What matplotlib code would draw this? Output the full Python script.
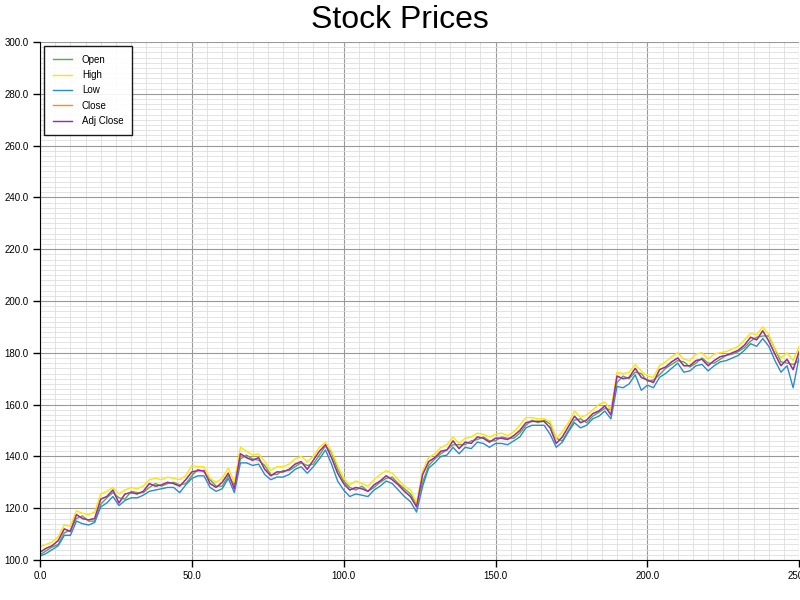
import matplotlib
matplotlib.use("Agg")
import matplotlib.pyplot as plt
from matplotlib.ticker import MultipleLocator, FormatStrFormatter

plt.rcParams['font.family'] = ['Liberation Sans', 'DejaVu Sans']

# dias de cotizacion (uno de cada dos)
dias = list(range(0, 252, 2))

close = [103.0, 104.5, 105.5, 107.5, 112.0, 111.0, 117.5, 116.0, 115.5, 116.0,
         123.5, 124.5, 127.0, 122.0, 125.5, 126.0, 125.5, 126.5, 129.5, 128.5,
         129.0, 130.0, 129.5, 128.5, 131.0, 134.0, 134.5, 134.5, 129.5, 128.0,
         130.0, 133.5, 127.5, 141.0, 139.5, 138.5, 139.5, 135.0, 132.5, 134.0,
         134.0, 135.0, 137.0, 138.0, 135.0, 138.5, 142.0, 144.5, 139.5, 133.5,
         129.5, 127.0, 128.0, 127.5, 126.5, 129.0, 130.5, 132.5, 131.0, 129.0,
         126.5, 124.5, 120.5, 133.0, 138.0, 139.5, 142.0, 142.5, 146.0, 143.0,
         145.5, 145.0, 147.5, 147.0, 145.5, 147.0, 147.0, 146.5, 148.0, 150.0,
         153.0, 153.5, 153.5, 153.5, 151.0, 145.0, 147.5, 151.5, 155.5, 153.0,
         154.0, 156.5, 157.5, 159.5, 156.0, 171.0, 170.0, 170.5, 174.0, 170.5,
         169.5, 168.5, 173.5, 174.5, 176.5, 178.0, 175.0, 175.0, 177.0, 177.5,
         175.0, 177.0, 178.5, 179.0, 180.0, 181.0, 183.0, 186.0, 185.0, 188.5,
         184.5, 179.5, 175.0, 177.5, 173.5, 180.5]

high = [105.0, 106.0, 107.0, 109.0, 113.5, 113.0, 119.0, 118.0, 117.5, 118.5,
        125.5, 126.5, 128.0, 125.5, 127.0, 128.0, 127.5, 128.5, 131.0, 131.5,
        131.0, 132.0, 131.5, 131.0, 132.5, 136.5, 136.0, 136.0, 131.5, 130.0,
        131.5, 135.5, 130.0, 143.5, 142.0, 140.5, 141.0, 138.0, 134.5, 136.0,
        136.0, 137.0, 139.0, 140.0, 138.0, 140.0, 143.5, 145.5, 142.0, 136.5,
        131.5, 129.0, 130.5, 129.5, 128.5, 131.0, 133.0, 134.5, 133.5, 131.0,
        128.5, 127.0, 122.0, 134.5, 139.5, 141.0, 143.5, 144.5, 147.5, 145.0,
        147.0, 147.5, 149.0, 148.5, 147.5, 148.5, 149.0, 148.0, 149.5, 152.0,
        155.0, 155.0, 154.5, 154.5, 153.5, 147.0, 149.5, 153.0, 157.5, 155.0,
        156.0, 158.0, 160.0, 161.0, 158.0, 172.5, 172.0, 172.5, 175.5, 173.0,
        171.0, 170.5, 175.0, 176.5, 178.5, 180.0, 177.5, 177.0, 179.5, 180.0,
        177.5, 179.5, 180.0, 180.5, 181.5, 182.5, 185.0, 187.5, 187.0, 190.0,
        187.0, 181.5, 178.0, 180.0, 177.0, 182.5]

low = [101.5, 102.5, 104.0, 105.5, 109.5, 109.5, 115.0, 114.0, 113.5, 114.5,
       120.5, 122.0, 124.5, 121.0, 123.0, 124.0, 124.0, 125.0, 126.5, 127.0,
       127.5, 128.0, 128.0, 126.0, 129.0, 131.5, 132.5, 132.5, 128.0, 126.5,
       127.5, 131.5, 126.0, 137.5, 137.5, 136.5, 137.0, 133.0, 131.0, 132.0,
       132.0, 133.0, 135.0, 136.0, 133.5, 136.0, 139.0, 142.5, 137.0, 130.5,
       127.0, 124.5, 125.5, 125.0, 124.5, 127.0, 128.5, 130.5, 129.5, 127.0,
       124.5, 122.5, 118.5, 128.5, 135.5, 137.5, 140.0, 140.5, 143.5, 141.0,
       143.5, 143.0, 145.5, 145.0, 143.5, 145.0, 145.0, 144.5, 146.0, 147.5,
       151.0, 152.0, 152.0, 152.0, 148.5, 143.5, 145.5, 149.5, 153.0, 151.0,
       152.0, 154.5, 155.5, 157.5, 154.5, 167.0, 166.5, 168.0, 171.5, 165.5,
       167.5, 166.5, 170.5, 172.0, 174.0, 176.0, 172.5, 173.0, 175.0, 175.5,
       173.0, 175.0, 176.5, 177.0, 178.0, 179.0, 181.0, 183.5, 182.5, 185.5,
       182.5, 177.0, 172.5, 175.0, 166.5, 178.5]

open_ = [102.0, 103.5, 105.0, 106.0, 110.5, 111.5, 116.0, 117.0, 115.0, 115.0,
         121.5, 124.0, 126.0, 124.0, 123.5, 126.5, 126.0, 126.0, 128.0, 129.5,
         128.5, 129.5, 130.0, 129.0, 129.5, 132.5, 135.0, 134.0, 131.0, 128.5,
         128.5, 132.5, 129.0, 139.0, 140.5, 139.0, 138.5, 136.5, 133.0, 133.0,
         134.5, 134.5, 136.0, 137.5, 136.5, 137.0, 140.5, 144.0, 141.5, 135.0,
         130.5, 128.0, 127.0, 128.5, 126.5, 128.0, 130.0, 131.5, 132.0, 129.5,
         127.5, 125.5, 121.5, 130.0, 136.5, 139.0, 141.0, 142.5, 144.5, 144.5,
         144.5, 146.0, 146.5, 147.5, 146.0, 146.0, 147.5, 147.0, 147.0, 149.0,
         152.0, 154.0, 153.0, 154.0, 152.5, 147.0, 146.0, 150.0, 154.0, 154.5,
         153.0, 155.5, 157.0, 158.5, 158.0, 168.5, 171.0, 170.0, 172.5, 172.0,
         169.0, 169.5, 171.5, 174.0, 175.5, 177.0, 176.5, 174.5, 176.0, 178.0,
         176.0, 176.0, 177.5, 179.0, 179.5, 180.5, 182.0, 184.5, 186.0, 186.5,
         186.5, 181.5, 176.5, 176.0, 175.5, 177.0]

# el cierre ajustado coincide con el cierre
adj_close = list(close)

series = [("Open", open_, "#4caf50"),
          ("High", high, "#ffe400"),
          ("Low", low, "#2a8ad0"),
          ("Close", close, "#ff8c1a"),
          ("Adj Close", adj_close, "#9c27b0")]

fig = plt.figure(figsize=(8, 6), dpi=100)
ax = fig.add_axes([0.05, 0.0667, 0.949, 0.8633])

for nombre, valores, color in series:
    ax.plot(dias, valores, color=color, lw=1.0, label=nombre)

ax.set_xlim(0, 250)
ax.set_ylim(100, 300)

# ejes y rejilla
ax.xaxis.set_major_locator(MultipleLocator(50))
ax.xaxis.set_minor_locator(MultipleLocator(5))
ax.yaxis.set_major_locator(MultipleLocator(20))
ax.yaxis.set_minor_locator(MultipleLocator(2))
ax.xaxis.set_major_formatter(FormatStrFormatter("%.1f"))
ax.yaxis.set_major_formatter(FormatStrFormatter("%.1f"))
ax.grid(which="major", color="#999999", lw=0.8)
ax.grid(which="minor", color="#dedede", lw=0.6)
ax.set_axisbelow(True)
ax.tick_params(which="major", direction="out", length=5, width=1, labelsize=7, pad=3)
ax.tick_params(which="minor", length=0)
ax.spines["top"].set_visible(False)
ax.spines["right"].set_visible(False)

fig.text(0.5, 0.966, "Stock Prices", ha="center", va="center", fontsize=23)

leg = ax.legend(loc="upper left", fontsize=7, fancybox=False, edgecolor="black",
                framealpha=0.9, borderpad=0.9, labelspacing=0.55,
                handlelength=2.0, handletextpad=1.0, borderaxespad=0.4)
leg.get_frame().set_linewidth(1.0)

fig.savefig("out.png", dpi=100)
